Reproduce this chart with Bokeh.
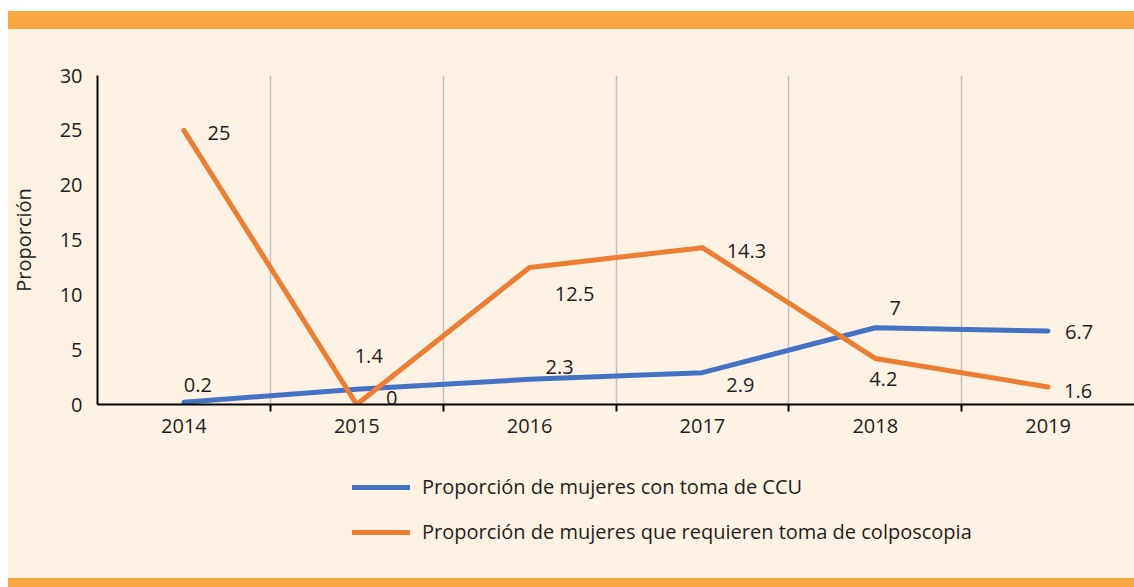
from bokeh.plotting import figure
from bokeh.models import ColumnDataSource, FixedTicker, Legend, LegendItem, Range1d
from bokeh.layouts import column
from bokeh.core.properties import value
from bokeh.embed import file_html
from bokeh.resources import INLINE

# ---- data ----
years = ["2014", "2015", "2016", "2017", "2018", "2019"]
ccu = [0.2, 1.4, 2.3, 2.9, 7, 6.7]
colpo = [25, 0, 12.5, 14.3, 4.2, 1.6]
ccu_labels = ["0.2", "1.4", "2.3", "2.9", "7", "6.7"]
colpo_labels = ["25", "0", "12.5", "14.3", "4.2", "1.6"]
y_ticks = [0, 5, 10, 15, 20, 25, 30]
series_names = ["Proporción de mujeres con toma de CCU",
                "Proporción de mujeres que requieren toma de colposcopia"]
y_title = "Proporción"

# ---- styles ----
ccu_dx = [14, 12, 30, 38, 20, 31]
ccu_dy = [-17, -33, -12, 12, -20, 1]
colpo_dx = [35, 35, 45, 44, 8, 30]
colpo_dy = [3, -7, 27, 3, 21, 4]
BLUE = "#4472C4"
ORANGE = "#ED7D31"
CREAM = "#FDF2E3"
BAND = "#F8A640"
TXT = "#1E1E1E"
FONT = "Open Sans"
FS = "20px"
W, H = 1134, 587
H1 = 458

bg = ("linear-gradient(to right, #FFFFFF 0px, #FFFFFF 8px, transparent 8px), "
      "linear-gradient(to bottom, #FFFFFF 0px, #FFFFFF 11px, "
      f"{BAND} 11px, {BAND} 29px, {CREAM} 29px, {CREAM} 578px, {BAND} 578px, {BAND} {H}px)")

xs = [i + 0.5 for i in range(len(years))]
src_ccu = ColumnDataSource(dict(x=xs, y=ccu, t=ccu_labels, dx=ccu_dx, dy=ccu_dy))
src_col = ColumnDataSource(dict(x=xs, y=colpo, t=colpo_labels, dx=colpo_dx, dy=colpo_dy))

p = figure(width=W, height=H1, output_backend="svg", toolbar_location=None,
           x_range=Range1d(0, len(years)), y_range=Range1d(y_ticks[0], y_ticks[-1]),
           min_border_left=97, min_border_right=0, min_border_top=75, min_border_bottom=H1 - 404)
p.background_fill_color = CREAM
p.border_fill_alpha = 0
p.outline_line_color = None

# grid
p.ygrid.grid_line_color = None
p.xgrid.ticker = FixedTicker(ticks=list(range(1, len(years))))
p.xgrid.grid_line_color = "#C0C0C0"
p.xgrid.grid_line_width = 1.5

# x axis
p.xaxis.ticker = FixedTicker(ticks=xs, minor_ticks=list(range(1, len(years))))
p.xaxis.major_label_overrides = {x: y for x, y in zip(xs, years)}
p.xaxis.major_tick_line_color = None
p.xaxis.major_tick_out = 0
p.xaxis.major_tick_in = 0
p.xaxis.minor_tick_line_color = "black"
p.xaxis.minor_tick_line_width = 2
p.xaxis.minor_tick_out = 7
p.xaxis.minor_tick_in = 0
p.xaxis.axis_line_color = "black"
p.xaxis.axis_line_width = 2
p.xaxis.major_label_standoff = 7

# y axis
p.yaxis.ticker = FixedTicker(ticks=y_ticks)
p.yaxis.minor_tick_line_color = None
p.yaxis.major_tick_line_color = None
p.yaxis.axis_line_color = "black"
p.yaxis.axis_line_width = 2
p.yaxis.major_label_standoff = 9
p.yaxis.axis_label = y_title
p.yaxis.axis_label_standoff = 20
p.yaxis.axis_label_text_font_style = "normal"

for ax in (p.xaxis, p.yaxis):
    ax.major_label_text_font = FONT
    ax.major_label_text_font_size = FS
    ax.major_label_text_color = TXT
    ax.axis_label_text_font = FONT
    ax.axis_label_text_font_size = FS
    ax.axis_label_text_color = TXT

p.line("x", "y", source=src_ccu, line_color=BLUE, line_width=5, line_cap="round", line_join="round")
p.line("x", "y", source=src_col, line_color=ORANGE, line_width=5, line_cap="round", line_join="round")

for src in (src_ccu, src_col):
    p.text("x", "y", text="t", source=src, x_offset="dx", y_offset="dy",
           text_align="center", text_baseline="middle",
           text_font=value(FONT), text_font_size=FS, text_color=TXT)

# legend figure (its lines share the data but lie outside its view, so only the legend shows)
lp = figure(width=W, height=H - H1, output_backend="svg", toolbar_location=None,
            x_range=Range1d(100, 101), y_range=Range1d(100, 101),
            x_axis_location=None, y_axis_location=None,
            min_border_left=97, min_border_right=0, min_border_top=0, min_border_bottom=0)
lp.grid.visible = False
lp.outline_line_color = None
lp.background_fill_alpha = 0
lp.border_fill_alpha = 0
l1 = lp.line("x", "y", source=src_ccu, line_color=BLUE, line_width=5, line_cap="round")
l2 = lp.line("x", "y", source=src_col, line_color=ORANGE, line_width=5, line_cap="round")
legend = Legend(items=[LegendItem(label=series_names[0], renderers=[l1]),
                       LegendItem(label=series_names[1], renderers=[l2])],
                location=(255, 42), orientation="vertical",
                glyph_width=58, glyph_height=22, label_height=22, spacing=18,
                label_standoff=12, padding=0, margin=0,
                border_line_color=None, background_fill_alpha=0,
                label_text_font=FONT, label_text_font_size=FS, label_text_color=TXT)
lp.add_layout(legend, "center")

layout = column(p, lp, spacing=0, styles={"background": bg})

open("out.html", "w").write(file_html(layout, INLINE))
